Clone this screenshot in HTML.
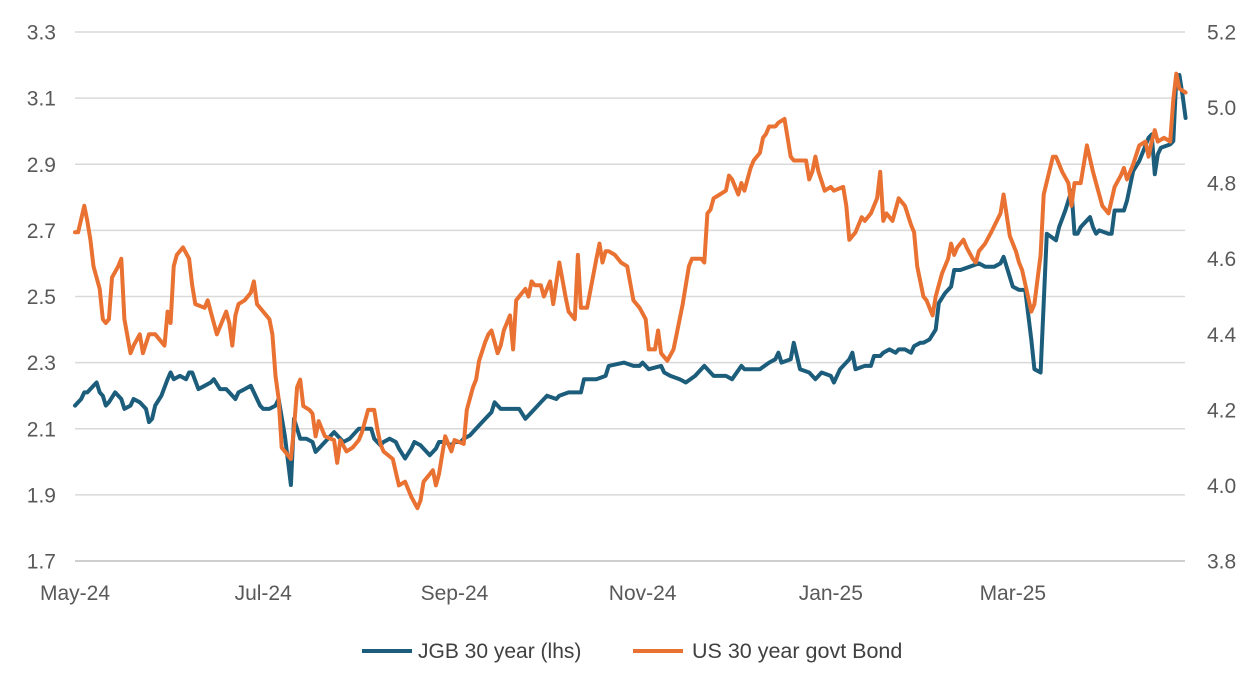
<!DOCTYPE html>
<html><head><meta charset="utf-8">
<style>
html,body{margin:0;padding:0;background:#fff;}
svg{display:block;font-family:"Liberation Sans",sans-serif;}
</style></head>
<body>
<svg id="chart" width="1260" height="692" viewBox="0 0 1260 692">
<g id="grid"></g>
<g id="lticks"></g>
<g id="rticks"></g>
<g id="xticks"></g>
<g id="series"></g>
<g>
<line x1="362" y1="651" x2="412" y2="651" stroke="#1c5d7c" stroke-width="4"/>
<text x="418" y="658" font-size="21" fill="#404040">JGB 30 year (lhs)</text>
<line x1="633" y1="651" x2="683" y2="651" stroke="#e97132" stroke-width="4"/>
<text x="692" y="658" font-size="21.5" fill="#404040">US 30 year govt Bond</text>
</g>
</svg>
<script>
const leftTicks=[1.7,1.9,2.1,2.3,2.5,2.7,2.9,3.1,3.3];
const rightTicks=[3.8,4.0,4.2,4.4,4.6,4.8,5.0,5.2];
const xTickDays=[0,61,123,184,245,304];
const xTickLabels=["May-24","Jul-24","Sep-24","Nov-24","Jan-25","Mar-25"];
const jgbDays=[0,2,3,4,6,7,8,9,10,11,13,15,16,18,19,21,23,24,25,26,28,30,31,32,34,36,37,38,40,42,44,45,47,49,50,52,53,55,57,59,60,61,63,65,66,68,70,71,73,75,77,78,79,81,84,87,89,92,96,97,99,100,102,104,105,107,109,110,112,113,115,117,118,120,122,123,125,126,128,131,133,135,136,138,141,144,146,149,151,153,156,157,160,162,164,165,167,169,172,173,178,181,183,184,186,190,191,193,196,198,201,204,207,211,213,216,217,222,225,227,228,229,232,233,235,238,240,242,245,246,248,251,252,253,256,258,259,261,262,264,266,267,269,271,272,274,275,277,279,280,282,284,285,287,290,293,295,298,300,301,304,306,308,310,311,313,315,318,319,321,322,323,324,325,326,329,330,331,332,335,336,337,339,340,341,343,345,348,349,350,351,352,355,356,357,358,359,360];
const jgbVals=[2.17,2.19,2.21,2.21,2.23,2.24,2.21,2.20,2.17,2.18,2.21,2.19,2.16,2.17,2.19,2.18,2.16,2.12,2.13,2.17,2.20,2.25,2.27,2.25,2.26,2.25,2.27,2.27,2.22,2.23,2.24,2.25,2.22,2.22,2.21,2.19,2.21,2.22,2.23,2.19,2.17,2.16,2.16,2.17,2.19,2.08,1.93,2.13,2.07,2.07,2.06,2.03,2.04,2.06,2.09,2.06,2.07,2.10,2.10,2.07,2.05,2.06,2.07,2.06,2.04,2.01,2.04,2.06,2.05,2.04,2.02,2.04,2.06,2.06,2.05,2.06,2.06,2.07,2.08,2.11,2.13,2.15,2.18,2.16,2.16,2.16,2.13,2.16,2.18,2.20,2.19,2.20,2.21,2.21,2.21,2.25,2.25,2.25,2.26,2.29,2.30,2.29,2.29,2.30,2.28,2.29,2.27,2.26,2.25,2.24,2.26,2.29,2.26,2.26,2.25,2.29,2.28,2.28,2.30,2.31,2.33,2.30,2.31,2.36,2.28,2.27,2.25,2.27,2.26,2.24,2.28,2.31,2.33,2.28,2.29,2.29,2.32,2.32,2.33,2.34,2.33,2.34,2.34,2.33,2.35,2.36,2.36,2.37,2.40,2.48,2.51,2.53,2.58,2.58,2.59,2.60,2.59,2.59,2.60,2.62,2.53,2.52,2.52,2.37,2.28,2.27,2.69,2.67,2.71,2.76,2.79,2.82,2.69,2.69,2.71,2.74,2.71,2.69,2.70,2.69,2.69,2.76,2.76,2.76,2.79,2.88,2.91,2.98,2.99,2.87,2.93,2.95,2.96,2.97,3.16,3.17,3.11,3.04];
const usDays=[0,1,3,4,5,6,8,9,10,11,12,14,15,16,18,19,21,22,24,26,28,29,30,31,32,33,35,37,38,39,42,43,44,46,49,50,51,52,53,55,57,58,59,61,63,64,65,66,67,68,70,71,72,73,74,76,77,78,79,81,84,85,86,88,90,92,93,95,97,98,99,100,103,105,107,109,111,112,113,116,117,118,120,122,123,126,127,129,130,131,133,134,135,137,138,139,141,142,143,144,146,147,148,149,151,152,154,155,157,159,160,162,163,164,166,169,170,171,172,173,175,177,179,181,183,185,186,188,189,190,192,194,195,197,199,200,203,204,205,206,207,209,211,212,213,215,216,217,219,220,222,223,224,225,227,228,230,232,233,237,238,239,240,241,243,245,246,249,250,251,253,255,256,258,260,261,262,263,265,267,269,271,272,273,274,275,276,278,279,281,283,284,285,286,288,289,291,292,293,295,297,300,301,303,305,306,307,310,311,313,314,317,318,320,322,323,324,326,327,328,330,332,333,335,337,339,340,341,343,345,347,348,349,350,351,353,355,356,357,358,360];
const usVals=[4.67,4.67,4.74,4.70,4.65,4.58,4.52,4.44,4.43,4.44,4.55,4.58,4.60,4.44,4.35,4.37,4.40,4.35,4.40,4.40,4.38,4.37,4.46,4.43,4.58,4.61,4.63,4.60,4.53,4.48,4.47,4.49,4.46,4.40,4.46,4.43,4.37,4.45,4.48,4.49,4.51,4.54,4.48,4.46,4.44,4.40,4.29,4.23,4.10,4.09,4.07,4.15,4.26,4.28,4.21,4.20,4.19,4.13,4.17,4.13,4.12,4.06,4.12,4.09,4.10,4.12,4.14,4.20,4.20,4.15,4.11,4.09,4.07,4.00,4.01,3.97,3.94,3.96,4.01,4.04,4.00,4.03,4.13,4.09,4.12,4.11,4.20,4.26,4.28,4.33,4.38,4.40,4.41,4.35,4.37,4.41,4.45,4.36,4.49,4.50,4.52,4.50,4.54,4.53,4.53,4.50,4.54,4.48,4.59,4.50,4.46,4.44,4.61,4.47,4.47,4.60,4.64,4.59,4.62,4.62,4.61,4.59,4.58,4.49,4.47,4.44,4.36,4.36,4.41,4.35,4.33,4.36,4.40,4.48,4.58,4.60,4.60,4.59,4.72,4.73,4.76,4.77,4.78,4.82,4.81,4.77,4.80,4.78,4.84,4.86,4.88,4.92,4.93,4.95,4.95,4.96,4.97,4.87,4.86,4.86,4.81,4.83,4.87,4.83,4.78,4.79,4.78,4.79,4.74,4.65,4.67,4.71,4.70,4.72,4.76,4.83,4.70,4.72,4.70,4.76,4.74,4.69,4.67,4.58,4.54,4.50,4.49,4.45,4.50,4.56,4.60,4.64,4.61,4.63,4.65,4.63,4.60,4.59,4.62,4.64,4.67,4.72,4.77,4.66,4.62,4.59,4.57,4.46,4.48,4.61,4.77,4.87,4.87,4.83,4.80,4.74,4.80,4.80,4.85,4.90,4.83,4.77,4.74,4.72,4.79,4.82,4.84,4.81,4.85,4.90,4.91,4.87,4.91,4.94,4.91,4.92,4.91,5.02,5.09,5.05,5.04];

const NS="http://www.w3.org/2000/svg";
const X0=75,PXD=3.085,TOP=32,BOT=561;
const xS=d=>X0+d*PXD;
const yL=v=>BOT-(v-1.7)/(3.3-1.7)*(BOT-TOP);
const yR=v=>BOT-(v-3.8)/(5.2-3.8)*(BOT-TOP);
function mk(tag,attrs,parent){const e=document.createElementNS(NS,tag);for(const k in attrs)e.setAttribute(k,attrs[k]);parent.appendChild(e);return e;}
const grid=document.getElementById('grid'),lt=document.getElementById('lticks'),rt=document.getElementById('rticks'),xt=document.getElementById('xticks'),se=document.getElementById('series');
leftTicks.forEach((v,i)=>{
  const y=yL(v);
  const g=mk('line',{x1:X0,x2:1185,y1:y,y2:y,stroke:i===0?'#bfbfbf':'#d9d9d9','stroke-width':1.5},grid);
  
  
  const t=mk('text',{x:56,y:y+7.5,'text-anchor':'end','font-size':21,fill:'#595959'},lt);
  t.textContent=v.toFixed(1);
  
  
});
rightTicks.forEach(v=>{
  const t=mk('text',{x:1207,y:yR(v)+7.5,'font-size':21,fill:'#595959'},rt);
  t.textContent=v.toFixed(1);
  
  
});
xTickDays.forEach((d,i)=>{
  const t=mk('text',{x:xS(d),y:600,'text-anchor':'middle','font-size':21,fill:'#595959'},xt);
  t.textContent=xTickLabels[i];
  
  
});
function line(days,vals,ys,color,name){
  const pts=days.map((d,i)=>xS(d).toFixed(1)+','+ys(vals[i]).toFixed(1)).join(' ');
  const p=mk('polyline',{points:pts,fill:'none',stroke:color,'stroke-width':4,'stroke-linejoin':'round','stroke-linecap':'round'},se);
  
  
}
line(jgbDays,jgbVals,yL,'#1c5d7c','jgb-30y-line');
line(usDays,usVals,yR,'#e97132','us-30y-line');
</script>
</body></html>
